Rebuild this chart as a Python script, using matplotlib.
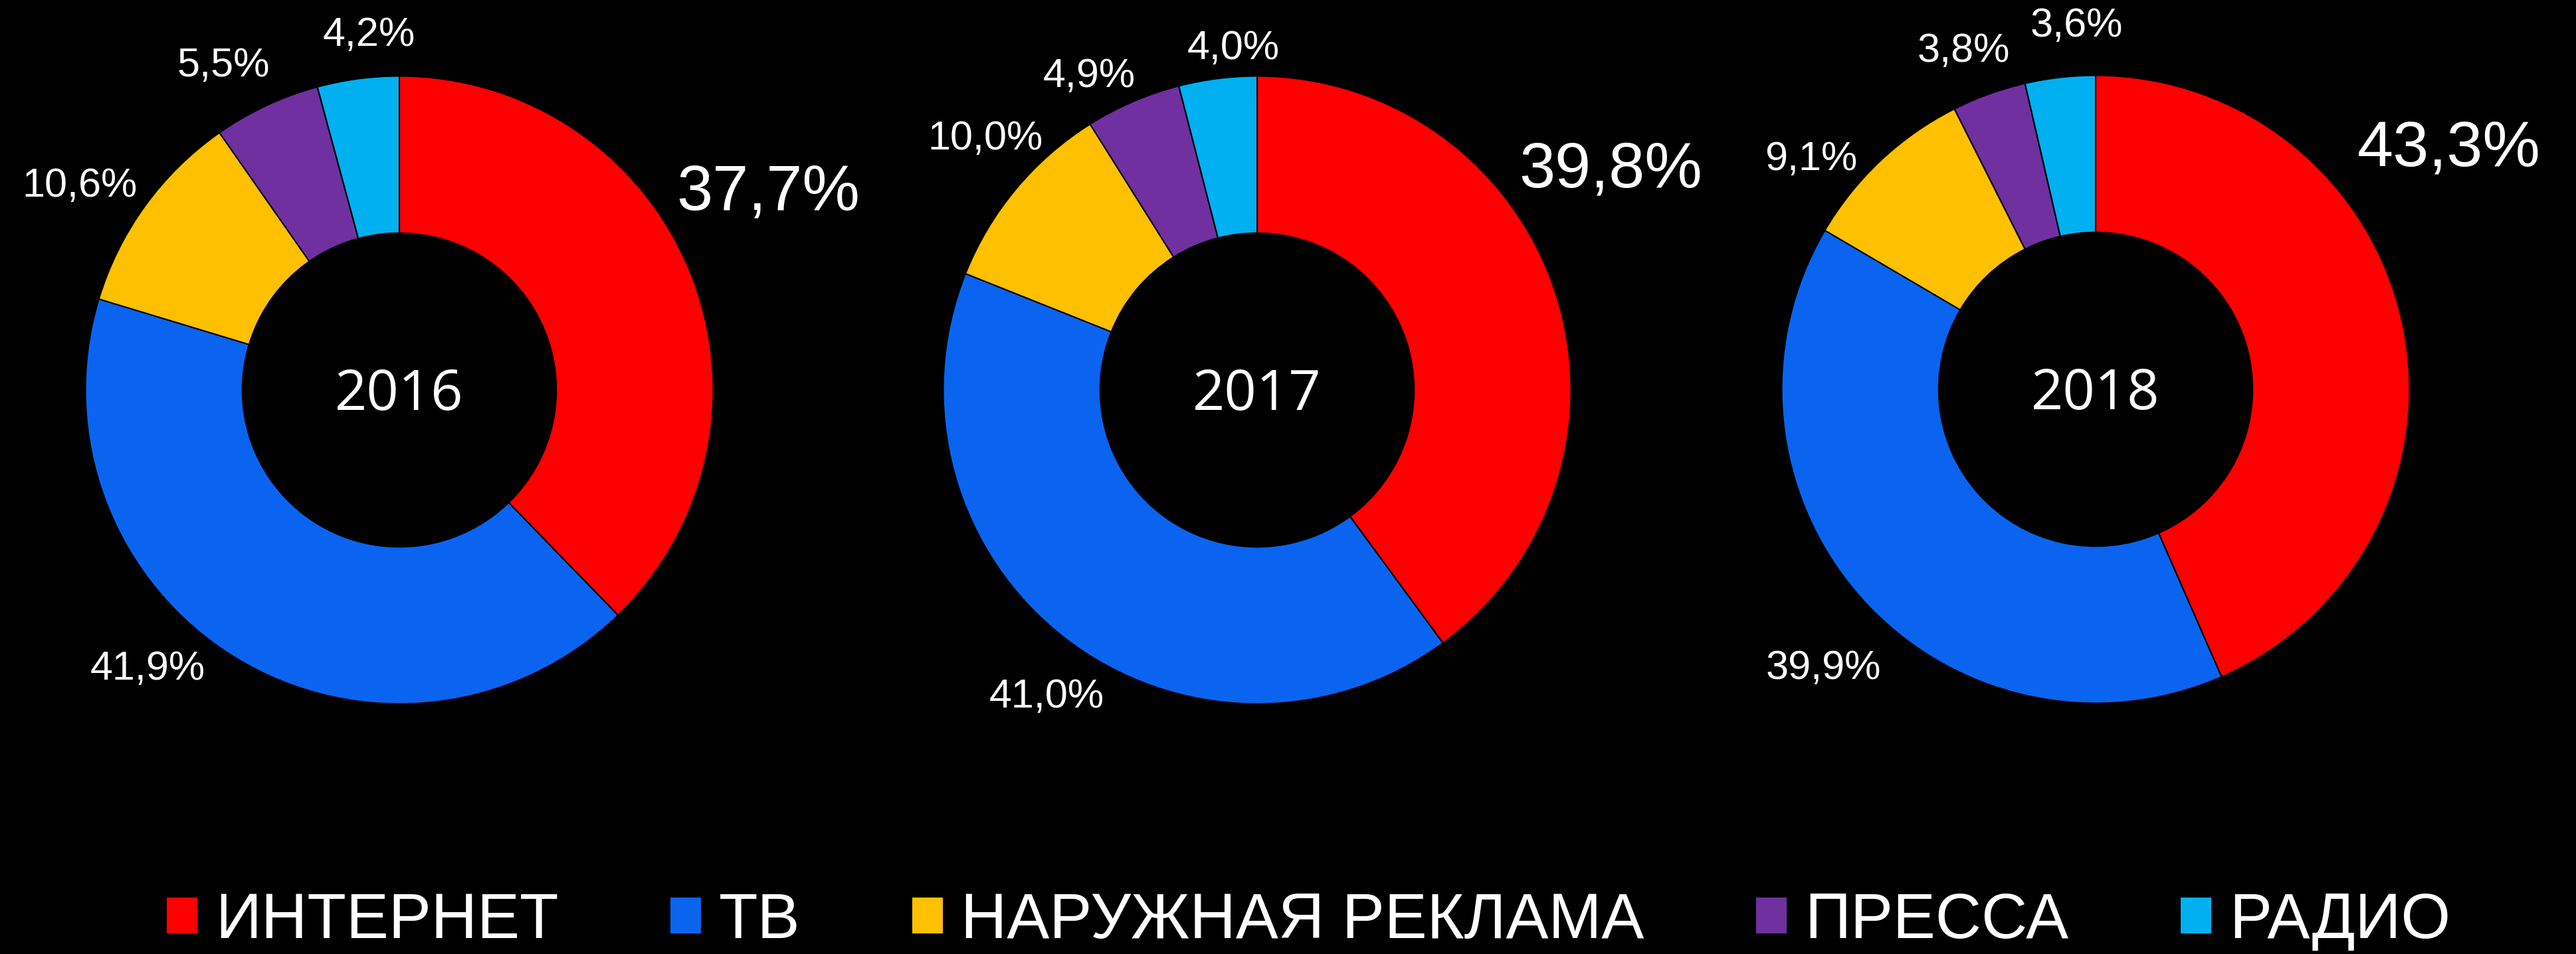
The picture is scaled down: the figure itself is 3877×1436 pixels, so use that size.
import numpy as np
import matplotlib
matplotlib.use('Agg')
import matplotlib.pyplot as plt
from matplotlib.patches import Patch

# данные
categories = ['ИНТЕРНЕТ', 'ТВ', 'НАРУЖНАЯ РЕКЛАМА', 'ПРЕССА', 'РАДИО']
years = ['2016', '2017', '2018']
share_2016 = [37.7, 41.9, 10.6, 5.5, 4.2]
share_2017 = [39.8, 41.0, 10.0, 4.9, 4.0]
share_2018 = [43.3, 39.9, 9.1, 3.8, 3.6]
shares = [share_2016, share_2017, share_2018]

colors = ['#FF0000', '#0A64F0', '#FFC000', '#7030A0', '#00B0F0']

# раскладка (в пикселях картинки, y вверх)
W, H = 3877, 1436
centers = [(601, 849), (1892, 849), (3154, 850)]
R = 472.5
# положение подписей относительно центра, в долях радиуса
label_pos = [
    [(1.175, 0.627), (-0.802, -0.889), (-1.018, 0.648), (-0.561, 1.031), (-0.097, 1.130)],
    [(1.126, 0.700), (-0.671, -0.978), (-0.866, 0.798), (-0.535, 0.997), (-0.076, 1.086)],
    [(1.126, 0.766), (-0.868, -0.891), (-0.906, 0.732), (-0.421, 1.077), (-0.061, 1.156)],
]

fig = plt.figure(figsize=(W / 100, H / 100), dpi=100, facecolor='black')
ax = fig.add_axes([0, 0, 1, 1])
ax.set_facecolor('black')

for k in range(3):
    cx, cy = centers[k]
    ax.pie(shares[k], colors=colors, startangle=90, counterclock=False,
           center=(cx, cy), radius=R,
           wedgeprops=dict(width=R * 0.5, edgecolor='black', linewidth=1.5))
    ax.text(cx, cy - 8, years[k], ha='center', va='center', color='white',
            fontsize=61, family=['Open Sans', 'DejaVu Sans'])
    for i, v in enumerate(shares[k]):
        dx, dy = label_pos[k][i]
        txt = ('%.1f%%' % v).replace('.', ',')
        fs = 70 if i == 0 else 44
        ax.text(cx + dx * R, cy + dy * R, txt, ha='center', va='center',
                color='white', fontsize=fs, family='Liberation Sans')

ax.set_xlim(0, W)
ax.set_ylim(0, H)
ax.set_aspect('equal')
ax.axis('off')

handles = [Patch(facecolor=c, edgecolor='none') for c in colors]
fig.legend(handles, categories, loc='center', bbox_to_anchor=(0.508, 0.034),
           ncol=5, frameon=False, handlelength=0.48, handleheight=0.48,
           handletextpad=0.28, columnspacing=1.76,
           prop={'family': 'Liberation Sans', 'size': 69}, labelcolor='white')

fig.savefig('out.png', dpi=100, facecolor='black')
